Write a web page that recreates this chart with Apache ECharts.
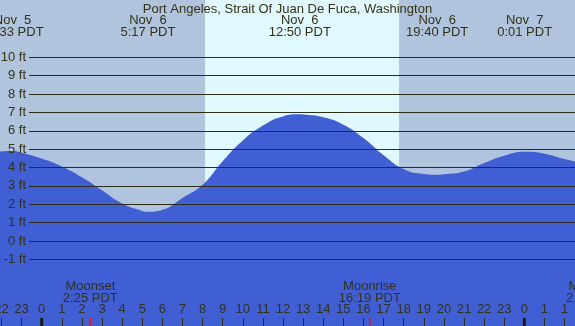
<!DOCTYPE html>
<html>
<head>
<meta charset="utf-8">
<script src="https://cdn.jsdelivr.net/npm/echarts@6/dist/echarts.min.js"></script>
<style>
  html, body { margin: 0; padding: 0; background: #b0c4de; }
  #chart { width: 575px; height: 326px; }
</style>
</head>
<body>
<div id="chart"></div>
<script>
// hours relative to Nov 6 00:00 PDT, heights in ft
var tideHours = [-3, -2, -1.45, -1, 0, 1, 2, 3, 4, 5, 5.28, 6, 7, 8, 9, 10, 11, 12, 12.83, 13, 14, 15, 16, 17, 18, 19, 19.67, 20, 21, 22, 23, 24.02, 25, 26, 27];
var tideFeet  = [4.55, 4.84, 4.86, 4.77, 4.45, 4.02, 3.43, 2.72, 2.00, 1.60, 1.55, 1.66, 2.31, 3.02, 4.30, 5.43, 6.25, 6.75, 6.86, 6.85, 6.70, 6.30, 5.57, 4.63, 3.88, 3.61, 3.57, 3.60, 3.75, 4.21, 4.61, 4.82, 4.72, 4.43, 4.17];

// high / low tide times shown along the top
var eventHours  = [-1.45, 5.283, 12.833, 19.667, 24.017];
var eventLabels = ['Nov  5\n22:33 PDT', 'Nov  6\n5:17 PDT', 'Nov  6\n12:50 PDT', 'Nov  6\n19:40 PDT', 'Nov  7\n0:01 PDT'];

// daylight
var sunrise = 8.12;
var sunset = 17.77;

// moon
var moonHours  = [2.417, 16.317, 27.44];
var moonLabels = ['Moonset\n2:25 PDT', 'Moonrise\n16:19 PDT', 'Moonset\n2:26 PDT'];

var midnightHours = [0, 24];

// hour ticks and their labels
var hourTicks = [-2, -1, 0, 1, 2, 3, 4, 5, 6, 7, 8, 9, 10, 11, 12, 13, 14, 15, 16, 17, 18, 19, 20, 21, 22, 23, 24, 25, 26];
var hourLabels = ['22', '23', '0', '1', '2', '3', '4', '5', '6', '7', '8', '9', '10', '11',
  '12', '13', '14', '15', '16', '17', '18', '19', '20', '21', '22', '23', '0', '1', '1'];

var ftTicks = [-1, 10];

var textColor = '#333311';
var lineColor = '#2e2e10';
var waterColor = '#415fd5';
var nightColor = '#b0c4de';
var dayColor = '#e0f8ff';
var font = 'Liberation Sans';
var fontSize = 13;

var chart = echarts.init(document.getElementById('chart'));

var tideData = tideHours.map(function (h, i) { return [h, tideFeet[i]]; });

var option = {
    backgroundColor: nightColor,
    animation: false,
    title: {
        text: 'Port Angeles, Strait Of Juan De Fuca, Washington',
        left: 'center',
        top: -2,
        textStyle: { fontFamily: font, fontSize: fontSize, fontWeight: 'normal', color: textColor }
    },
    grid: [
        { left: 0, right: 0, top: 0, bottom: 0, outerBoundsMode: 'none' },
        { left: 29, right: 0, top: 57.3, bottom: 66.7, outerBoundsMode: 'none' }
    ],
    xAxis: [{
        gridIndex: 0,
        type: 'value',
        min: -2.074,
        max: 26.52,
        axisLine: { show: false, onZero: false },
        splitLine: { show: false },
        axisTick: {
            inside: true,
            length: 8,
            customValues: hourTicks,
            lineStyle: { color: lineColor, width: 1 }
        },
        axisLabel: {
            inside: true,
            margin: 10,
            customValues: hourTicks,
            showMinLabel: true,
            showMaxLabel: true,
            fontFamily: font,
            fontSize: fontSize,
            color: textColor,
            formatter: function (v) {
                var i = hourTicks.indexOf(Math.round(v));
                return i < 0 ? '' : hourLabels[i];
            }
        },
        z: 4
    }, {
        gridIndex: 1,
        type: 'value',
        min: 0,
        max: 1,
        show: false
    }],
    yAxis: [{
        gridIndex: 0,
        type: 'value',
        min: -4.67,
        max: 13.09,
        show: false
    }, {
        gridIndex: 1,
        type: 'value',
        min: ftTicks[0],
        max: ftTicks[1],
        interval: 1,
        axisLine: { show: false },
        axisTick: { show: false },
        splitLine: { lineStyle: { color: lineColor, width: 1 } },
        axisLabel: {
            margin: 3,
            fontFamily: font,
            fontSize: fontSize,
            color: textColor,
            formatter: '{value} ft'
        },
        z: 5
    }],
    series: [{
        // daylight band
        type: 'line',
        xAxisIndex: 0,
        yAxisIndex: 0,
        data: [],
        z: 1,
        silent: true,
        markArea: {
            silent: true,
            itemStyle: { color: dayColor },
            data: [[{ xAxis: sunrise }, { xAxis: sunset }]]
        }
    }, {
        name: 'tide',
        type: 'line',
        xAxisIndex: 0,
        yAxisIndex: 0,
        data: tideData,
        smooth: 0.5,
        symbol: 'none',
        z: 2,
        lineStyle: { width: 0, color: waterColor },
        areaStyle: { color: waterColor, opacity: 1, origin: 'start' }
    }, {
        // midnight and moon ticks
        type: 'custom',
        xAxisIndex: 0,
        yAxisIndex: 0,
        z: 6,
        silent: true,
        data: midnightHours.map(function (h) { return [h, 0]; })
            .concat(moonHours.map(function (h) { return [h, 1]; })),
        renderItem: function (params, api) {
            var pt = api.coord([api.value(0), 0]);
            var cs = params.coordSys;
            var moon = api.value(1) === 1;
            var w = moon ? 1.5 : 3;
            return {
                type: 'rect',
                shape: { x: pt[0] - w / 2, y: cs.y + cs.height - 8, width: w, height: 8 },
                style: { fill: moon ? '#ee1111' : '#1a1a08' }
            };
        }
    }]
};

chart.setOption(option);

// text labels placed at their times through the x axis
function timeLabel(h, text, top) {
    return {
        type: 'text',
        x: chart.convertToPixel({ xAxisIndex: 0 }, h),
        y: top,
        silent: true,
        style: {
            text: text,
            font: fontSize + 'px "' + font + '"',
            fill: textColor,
            align: 'center',
            verticalAlign: 'top',
            lineHeight: 12
        },
        z: 10
    };
}
var graphics = [];
eventHours.forEach(function (h, i) { graphics.push(timeLabel(h, eventLabels[i], 14)); });
moonHours.forEach(function (h, i) { graphics.push(timeLabel(h, moonLabels[i], 280)); });
chart.setOption({ graphic: graphics });

window.addEventListener('resize', function () {
    chart.resize();
});
</script>
</body>
</html>
